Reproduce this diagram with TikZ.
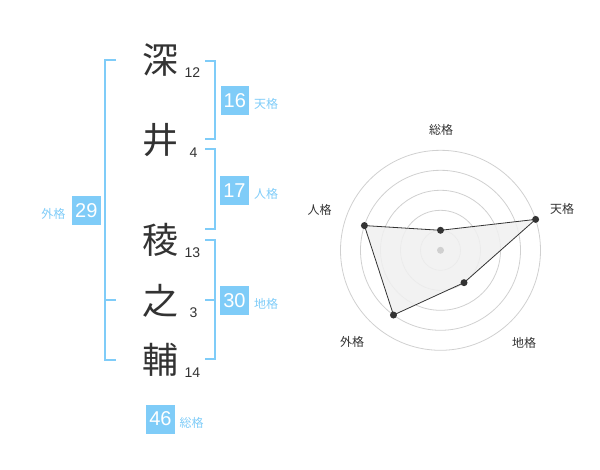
\documentclass[tikz,border=0pt]{standalone}
\usepackage{fontspec}
\setmainfont{Liberation Sans}
\newfontfamily\jp{Noto Sans CJK JP}
\definecolor{kblue}{RGB}{127,204,248}
\definecolor{ktext}{RGB}{51,51,51}
\definecolor{kgrid}{RGB}{208,208,208}
\definecolor{kfill}{RGB}{240,240,240}
\begin{document}
\begin{tikzpicture}[x=1pt,y=-1pt,
  kanji/.style={font=\jp\fontsize{36}{36}\selectfont, text=ktext, inner sep=0pt},
  strokes/.style={font=\fontsize{14}{14}\selectfont, text=ktext, inner sep=0pt},
  numbox/.style={fill=kblue, text=white, minimum width=28.5pt, minimum height=29pt, inner sep=0pt, font=\fontsize{20}{20}\selectfont},
  kaku/.style={font=\jp\fontsize{12}{12}\selectfont, text=kblue, inner sep=0pt},
  bracket/.style={draw=kblue, line width=2pt},
  axislabel/.style={font=\jp\fontsize{12}{12}\selectfont, text=ktext, inner sep=0pt},
  ring/.style={draw=kgrid, line width=0.8pt},
  dot/.style={circle, fill=ktext, inner sep=0pt, minimum size=7pt},
]
\useasboundingbox (0,0) rectangle (600,470);

% name characters
\node[kanji] (k1) at (160,60) {深};
\node[kanji] (k2) at (160,140) {井};
\node[kanji] (k3) at (160,240) {稜};
\node[kanji] (k4) at (160,301) {之};
\node[kanji] (k5) at (160,360) {輔};
\node[strokes] (s1) at (192.5,73) {12};
\node[strokes] (s2) at (193.5,153) {4};
\node[strokes] (s3) at (192.5,253) {13};
\node[strokes] (s4) at (193.5,313) {3};
\node[strokes] (s5) at (192.5,373) {14};

% brackets
\draw[bracket] (116,60) -- (105,60) -- (105,360) -- (116,360);
\draw[bracket] (105,300) -- (116,300);
\draw[bracket] (205,61) -- (215,61) -- (215,139) -- (205,139);
\draw[bracket] (205,149) -- (215,149) -- (215,229) -- (205,229);
\draw[bracket] (205,240) -- (215,240) -- (215,359) -- (205,359);
\draw[bracket] (205,300) -- (215,300);

% boxes and labels
\node[numbox] (b16) at (234.8,100.5) {16};
\node[kaku] (l16) at (266,103.5) {天格};
\node[numbox] (b17) at (234.5,190.5) {17};
\node[kaku] (l17) at (266,193.5) {人格};
\node[numbox] (b30) at (234.5,300.5) {30};
\node[kaku] (l30) at (266,304) {地格};
\node[numbox] (b29) at (86.3,210.5) {29};
\node[kaku] (l29) at (53.5,213.5) {外格};
\node[numbox] (b46) at (160.5,419) {46};
\node[kaku] (l46) at (191.5,422.5) {総格};

% radar chart
\coordinate (c) at (440.5,250.3);
\foreach \r in {20,40,60,80,100} \draw[ring] (c) circle[radius=\r pt];
\coordinate (p1) at ([shift={(-90:20)}]c);
\coordinate (p2) at ([shift={(-18:100)}]c);
\coordinate (p3) at ([shift={(54:40)}]c);
\coordinate (p4) at ([shift={(126:80)}]c);
\coordinate (p5) at ([shift={(198:80)}]c);
\fill[kfill, opacity=0.85] (p1) -- (p2) -- (p3) -- (p4) -- (p5) -- cycle;
\draw[ktext, line width=0.8pt, line join=round] (p1) -- (p2) -- (p3) -- (p4) -- (p5) -- cycle;
\node[circle, fill=kgrid, inner sep=0pt, minimum size=7pt] (cd) at (c) {};
\foreach \i in {1,...,5} \node[dot] (d\i) at (p\i) {};
\node[axislabel] (a1) at (441,130) {総格};
\node[axislabel] (a2) at (562,208.5) {天格};
\node[axislabel] (a3) at (524,342.5) {地格};
\node[axislabel] (a4) at (352,342) {外格};
\node[axislabel] (a5) at (319.5,209.5) {人格};
\end{tikzpicture}
\end{document}
